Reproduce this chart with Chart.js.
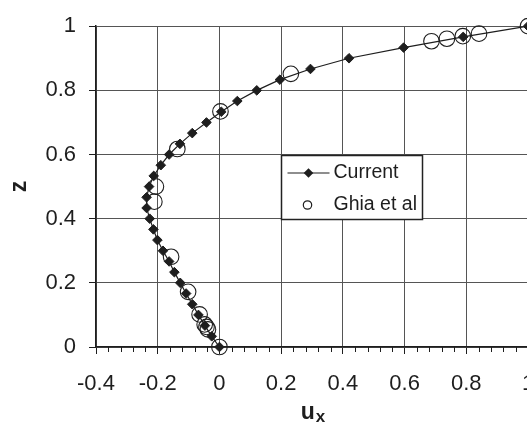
<!DOCTYPE html>
<html>
<head>
<meta charset="utf-8">
<script src="https://cdn.jsdelivr.net/npm/chart.js@4.4.1/dist/chart.umd.min.js"></script>
<style>
  html, body { margin: 0; padding: 0; background: #fff; overflow: hidden; }
  #wrap { width: 560px; height: 426px; }
</style>
</head>
<body>
<div id="wrap"><canvas id="profileChart" width="560" height="426"></canvas></div>
<script>
// u_x along the vertical centre line, current solver (31 nodes)
const zCurrent = [1.0, 0.9667, 0.9333, 0.9, 0.8667, 0.8333, 0.8, 0.7667, 0.7333, 0.7,
  0.6667, 0.6333, 0.6, 0.5667, 0.5333, 0.5, 0.4667, 0.4333, 0.4, 0.3667,
  0.3333, 0.3, 0.2667, 0.2333, 0.2, 0.1667, 0.1333, 0.1, 0.0667, 0.0333, 0];
const uCurrent = [1.0, 0.79, 0.597, 0.42, 0.295, 0.196, 0.121, 0.058, 0.006, -0.042,
  -0.088, -0.128, -0.163, -0.19, -0.213, -0.228, -0.236, -0.236, -0.226, -0.214,
  -0.201, -0.183, -0.163, -0.146, -0.127, -0.108, -0.088, -0.068, -0.047, -0.025, 0];

// Ghia et al reference values
const zGhia = [1.0, 0.9766, 0.9688, 0.9609, 0.9531, 0.8516, 0.7344, 0.6172, 0.5,
  0.4531, 0.2813, 0.1719, 0.1016, 0.0703, 0.0625, 0.0547, 0];
const uGhia = [1.0, 0.8412, 0.7887, 0.7372, 0.6872, 0.2315, 0.0033, -0.1364, -0.2058,
  -0.2109, -0.1566, -0.1015, -0.0643, -0.0478, -0.0419, -0.0372, 0];

const xTicks = { min: -0.4, max: 1, step: 0.2, minor: 0.04 };
const yTicks = { min: 0, max: 1, step: 0.2 };
const seriesNames = ['Current', 'Ghia et al'];

const FONT = '"Liberation Sans", Arial, Helvetica, sans-serif';
const INK = '#1e1e1e';

Chart.defaults.font.family = FONT;
Chart.defaults.color = INK;

const toPoints = (xs, ys) => xs.map((x, i) => ({ x, y: ys[i] }));

// minor ticks, the u_x title and the boxed legend
const extras = {
  id: 'extras',
  afterDraw(chart) {
    const { ctx, chartArea } = chart;
    const xs = chart.scales.x, ys = chart.scales.y;
    ctx.save();

    // minor tick marks under the x axis
    ctx.strokeStyle = INK;
    ctx.lineWidth = 1;
    const n = Math.round((xTicks.max - xTicks.min) / xTicks.minor);
    const per = Math.round(xTicks.step / xTicks.minor);
    for (let i = 0; i <= n; i++) {
      if (i % per === 0) continue;
      const px = Math.round(xs.getPixelForValue(xTicks.min + i * xTicks.minor)) + 0.5;
      ctx.beginPath();
      ctx.moveTo(px, chartArea.bottom);
      ctx.lineTo(px, chartArea.bottom + 5);
      ctx.stroke();
    }

    // x axis title with subscript
    ctx.fillStyle = INK;
    ctx.textBaseline = 'alphabetic';
    ctx.font = 'bold 23px ' + FONT;
    const wu = ctx.measureText('u').width;
    ctx.font = 'bold 17px ' + FONT;
    const wx = ctx.measureText('x').width;
    const cx = (chartArea.left + chartArea.right) / 2 + 1;
    const x0 = cx - (wu + wx + 1) / 2;
    ctx.font = 'bold 23px ' + FONT;
    ctx.textAlign = 'left';
    ctx.fillText('u', x0, 419);
    ctx.font = 'bold 17px ' + FONT;
    ctx.fillText('x', x0 + wu + 1, 422);

    // legend box
    const bl = Math.round(xs.getPixelForValue(0.2)) + 0.5;
    const bt = Math.round(ys.getPixelForValue(0.6)) + 0.5;
    const bb = Math.round(ys.getPixelForValue(0.4)) + 0.5;
    const br = bl + 141;
    ctx.fillStyle = '#fff';
    ctx.fillRect(bl, bt, br - bl, bb - bt);
    ctx.strokeStyle = '#222';
    ctx.lineWidth = 1.5;
    ctx.strokeRect(bl, bt, br - bl, bb - bt);

    const row1 = bt + 17.5, row2 = bt + 49.5;
    const sx = bl + 27;
    ctx.strokeStyle = INK;
    ctx.lineWidth = 1.2;
    ctx.beginPath();
    ctx.moveTo(bl + 6, row1);
    ctx.lineTo(bl + 48, row1);
    ctx.stroke();
    ctx.fillStyle = INK;
    Chart.helpers.drawPoint(ctx, { pointStyle: 'rectRot', radius: 4.8, borderWidth: 0 }, sx, row1);
    ctx.fillStyle = '#fff';
    ctx.lineWidth = 1.2;
    Chart.helpers.drawPoint(ctx, { pointStyle: 'circle', radius: 4.2, borderWidth: 1.2 }, sx - 1, row2);

    ctx.fillStyle = INK;
    ctx.font = '19.5px ' + FONT;
    ctx.textBaseline = 'middle';
    ctx.fillText(chart.data.datasets[0].label, bl + 52, row1);
    ctx.fillText(chart.data.datasets[1].label, bl + 52, row2);
    ctx.restore();
  }
};

new Chart(document.getElementById('profileChart'), {
  type: 'scatter',
  data: {
    datasets: [{
      label: seriesNames[0],
      data: toPoints(uCurrent, zCurrent),
      showLine: true,
      borderColor: INK,
      borderWidth: 1.2,
      pointStyle: 'rectRot',
      pointRadius: 4.8,
      pointBackgroundColor: INK,
      pointBorderColor: INK,
      pointBorderWidth: 1,
      clip: false
    }, {
      label: seriesNames[1],
      data: toPoints(uGhia, zGhia),
      showLine: false,
      pointStyle: 'circle',
      pointRadius: 7.8,
      pointBackgroundColor: 'rgba(0,0,0,0)',
      pointBorderColor: INK,
      pointBorderWidth: 1.1,
      clip: false
    }]
  },
  options: {
    responsive: false,
    animation: false,
    events: [],
    layout: { padding: { top: 19, right: 32, left: 0, bottom: 0 } },
    plugins: {
      legend: { display: false },
      tooltip: { enabled: false }
    },
    scales: {
      x: {
        type: 'linear',
        min: xTicks.min,
        max: xTicks.max,
        afterFit: (scale) => { scale.height = 79; },
        ticks: {
          stepSize: xTicks.step,
          padding: 17,
          maxRotation: 0,
          autoSkip: false,
          font: { size: 22 },
          color: INK,
          callback: (v) => String(+Number(v).toFixed(1))
        },
        grid: { color: '#555', lineWidth: 1, tickLength: 7, tickColor: INK },
        border: { color: INK, width: 1.5 }
      },
      y: {
        type: 'linear',
        min: yTicks.min,
        max: yTicks.max,
        afterFit: (scale) => { scale.width = 96; },
        ticks: {
          stepSize: yTicks.step,
          padding: 13,
          font: { size: 22 },
          color: INK,
          callback: (v) => String(+Number(v).toFixed(1))
        },
        grid: { color: '#555', lineWidth: 1, tickLength: 7, tickColor: INK },
        border: { color: INK, width: 1.5 },
        title: {
          display: true,
          text: 'z',
          font: { size: 23, weight: 'bold' },
          color: INK,
          padding: { top: 6, bottom: 0 }
        }
      }
    }
  },
  plugins: [extras]
});
</script>
</body>
</html>
